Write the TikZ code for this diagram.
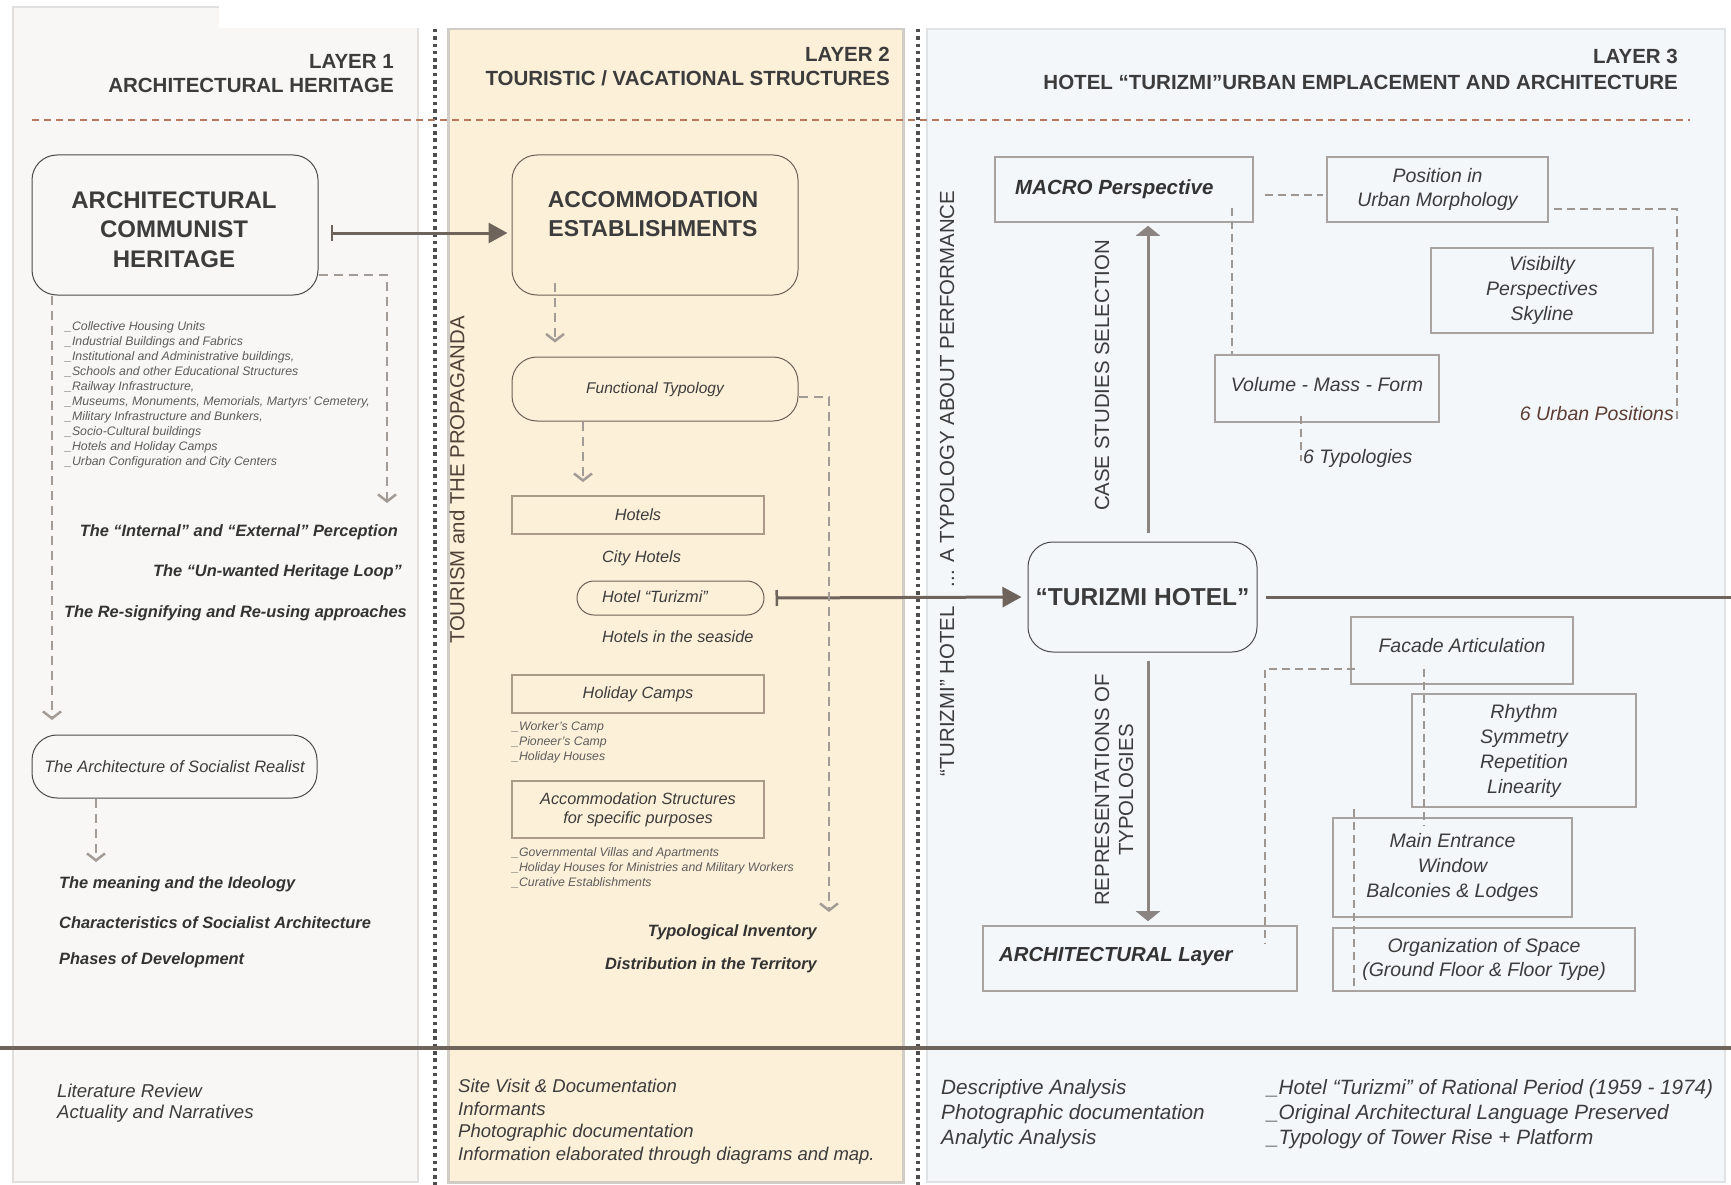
\documentclass[tikz,border=0pt]{standalone}
\usepackage{fontspec}
\setmainfont{Liberation Sans}
\usetikzlibrary{arrows.meta,calc}
\newcommand{\myfs}[2]{\fontsize{#1}{#2}\selectfont}
\definecolor{txt}{HTML}{3C3C3C}
\definecolor{bitx}{HTML}{333333}
\definecolor{lst}{HTML}{5C5C5C}
\definecolor{arr}{HTML}{6E645C}
\definecolor{dsh}{HTML}{A39B96}
\definecolor{dsh3}{HTML}{9E9691}
\definecolor{bxa}{HTML}{4A4A4A}
\definecolor{bxr}{HTML}{6D6055}
\definecolor{bxb}{HTML}{AB9A88}
\definecolor{bxc}{HTML}{A8A2A0}
\definecolor{pa}{HTML}{F8F7F6}
\definecolor{pb}{HTML}{FDF0D9}
\definecolor{pc}{HTML}{F3F7FA}
\definecolor{pba}{HTML}{E2E0DE}
\definecolor{pbb}{HTML}{D2CCC6}
\definecolor{pbc}{HTML}{DFE3E6}
\definecolor{hdash}{HTML}{B87860}
\definecolor{brn}{HTML}{5C3D33}
\definecolor{brv}{HTML}{4F4238}
\definecolor{dotc}{HTML}{4E4E4E}
\definecolor{csarr}{HTML}{8C8480}
\begin{document}
\begin{tikzpicture}[x=1pt,y=-1pt,
  every node/.style={inner sep=0pt, text=txt},
  hdr/.style={font=\myfs{20.5}{24.5}\bfseries, anchor=east, align=right},
  boxa/.style={draw=bxa, line width=1pt, rounded corners=25pt},
  boxr/.style={draw=bxr, line width=1pt, rounded corners=25pt},
  boxb/.style={draw=bxb, line width=1.8pt},
  boxc/.style={draw=bxc, line width=1.6pt},
  lsttext/.style={font=\myfs{12.3}{15}\itshape, text=lst, align=left, anchor=west},
  bit/.style={font=\myfs{16.4}{19}\bfseries\itshape, text=bitx},
  mid/.style={font=\myfs{16.3}{19}\itshape},
  ltr/.style={font=\myfs{19.5}{25}\itshape, align=center},
  vtxt/.style={rotate=90, font=\myfs{20.4}{24}},
  dl/.style={draw=dsh, line width=2.8pt, dash pattern=on 9pt off 6pt,
    arrows=-{Straight Barb[length=7pt,width=18pt,line width=2.5pt]}},
  dlthree/.style={draw=dsh3, line width=2.5pt, dash pattern=on 8pt off 5pt},
  sarrow/.style={draw=arr, line width=3pt,
    arrows={Bar[width=16pt,line width=2.5pt]-Triangle[length=19pt,width=20pt]}},
  csarrow/.style={draw=csarr, line width=3pt, arrows=-{Triangle[length=10pt,width=24pt]}},
  foot/.style={align=left, anchor=west}
]
\useasboundingbox (0,0) rectangle (1731,1185);
\fill[white] (0,0) rectangle (1731,1185);
% panels
\draw[fill=pa, draw=pba, line width=2pt] (13,7) rectangle (418,1182);
\draw[fill=pb, draw=pbb, line width=3pt] (448,29) rectangle (903,1182);
\draw[fill=pc, draw=pbc, line width=2pt] (927,29) rectangle (1725,1182);
\fill[white] (219,0) rectangle (1731,28);
% dotted separators
\draw[dotc, line width=3.5pt, dash pattern=on 3.5pt off 3.8pt] (435,29) -- (435,1185);
\draw[dotc, line width=3.5pt, dash pattern=on 3.5pt off 3.8pt] (918,29) -- (918,1185);
% header dashed line
\draw[hdash, line width=1.2pt, dash pattern=on 7pt off 5pt] (32,120) -- (1690,120);
% bottom line
\draw[arr, line width=3.5pt] (0,1048) -- (1731,1048);

% headers
\node[hdr] (h1) at (394,73.5) {LAYER 1\\ARCHITECTURAL HERITAGE};
\node[hdr] (h2) at (890,66.5) {LAYER 2\\TOURISTIC / VACATIONAL STRUCTURES};
\node[hdr, font=\myfs{20.5}{26}\bfseries] (h3) at (1678,69) {LAYER 3\\HOTEL “TURIZMI”URBAN EMPLACEMENT AND ARCHITECTURE};

% ---------- Layer 1
\node[boxa, minimum width=286pt, minimum height=140pt] (ACH) at (175,225) {};
\node[font=\myfs{24}{29.3}\bfseries, align=center] (ACHt) at (174,229.5) {ARCHITECTURAL\\COMMUNIST\\HERITAGE};
\node[lsttext] (L1list) at (65,395) {\_Collective Housing Units\\\_Industrial Buildings and Fabrics\\\_Institutional and Administrative buildings,\\\_Schools and other Educational Structures\\\_Railway Infrastructure,\\\_Museums, Monuments, Memorials, Martyrs' Cemetery,\\\_Military Infrastructure and Bunkers,\\\_Socio-Cultural buildings\\\_Hotels and Holiday Camps\\\_Urban Configuration and City Centers};
\node[bit, anchor=east] (TIE) at (398,532) {The “Internal” and “External” Perception};
\node[bit, anchor=east] (UWH) at (402,572) {The “Un-wanted Heritage Loop”};
\node[bit, anchor=east] (RSR) at (407,613) {The Re-signifying and Re-using approaches};
\node[boxa, minimum width=285pt, minimum height=63pt, font=\myfs{16.5}{20}\itshape] (SR) at (174.5,766.5) {The Architecture of Socialist Realist};
\node[bit, anchor=west] (MI) at (59,884) {The meaning and the Ideology};
\node[bit, anchor=west] (CSA) at (59,923) {Characteristics of Socialist Architecture};
\node[bit, anchor=west] (PD) at (59,960) {Phases of Development};
\node[foot, font=\myfs{18.6}{21}\itshape] (F1) at (57,1103.5) {Literature Review\\Actuality and Narratives};

% ---------- Layer 2
\node[vtxt, text=brv] (TP) at (457,480) {TOURISM and THE PROPAGANDA};
\node[boxr, minimum width=286pt, minimum height=140pt] (ACC) at (655,225) {};
\node[font=\myfs{23}{29}\bfseries, align=center] (ACCt) at (653,214.5) {ACCOMMODATION\\ESTABLISHMENTS};
\node[boxr, minimum width=286pt, minimum height=64pt, font=\myfs{15.5}{18}\itshape] (FT) at (655,389) {Functional Typology};
\node[boxb, minimum width=252pt, minimum height=38pt, mid] (HOT) at (638,515) {Hotels};
\node[mid, anchor=west] (CITY) at (602,558) {City Hotels};
\node[boxr, rounded corners=17pt, minimum width=187pt, minimum height=34pt] (HT) at (670.5,598) {};
\node[mid, anchor=west] (HTt) at (602,597) {Hotel “Turizmi”};
\node[mid, anchor=west] (SEA) at (602,637) {Hotels in the seaside};
\node[boxb, minimum width=252pt, minimum height=38pt, mid] (HC) at (638,694) {Holiday Camps};
\node[lsttext] (L2lista) at (512,742) {\_Worker's Camp\\\_Pioneer's Camp\\\_Holiday Houses};
\node[boxb, minimum width=252pt, minimum height=57pt, mid, align=center] (AS) at (638,809.5) {Accommodation Structures\\for specific purposes};
\node[lsttext] (L2listb) at (512,868) {\_Governmental Villas and Apartments\\\_Holiday Houses for Ministries and Military Workers\\\_Curative Establishments};
\node[bit, anchor=east] (TI) at (817,932) {Typological Inventory};
\node[bit, anchor=east] (DT) at (817,965) {Distribution in the Territory};
\node[foot, font=\myfs{18.5}{22.5}\itshape] (F2) at (458,1121.5) {Site Visit \& Documentation\\Informants\\Photographic documentation\\Information elaborated through diagrams and map.};

% ---------- Layer 3
\node[vtxt] (VH1) at (947,691.5) {“TURIZMI” HOTEL};
\node[vtxt] (VH2) at (947,389) {... A TYPOLOGY ABOUT PERFORMANCE};
\node[vtxt] (CSS) at (1102,375.5) {CASE STUDIES SELECTION};
\node[vtxt, align=center] (RT) at (1114,790) {REPRESENTATIONS OF\\TYPOLOGIES};
\node[boxc, minimum width=258pt, minimum height=65pt] (MACRO) at (1124,189.5) {};
\node[anchor=west, font=\myfs{20.5}{24}\bfseries\itshape, text=bitx] (MACROt) at (1015,189) {MACRO Perspective};
\node[boxc, minimum width=221pt, minimum height=65pt, ltr, font=\myfs{19.5}{24.5}\itshape] (POS) at (1437.5,189.5) {Position in\\Urban Morphology};
\node[boxc, minimum width=222pt, minimum height=85pt, ltr] (VIS) at (1542,290.5) {Visibilty\\Perspectives\\Skyline};
\node[boxc, minimum width=224pt, minimum height=67pt] (VOL) at (1327,388.5) {};
\node[ltr] (VOLt) at (1327,385) {Volume - Mass - Form};
\node[ltr, anchor=west] (TYP6) at (1303,458) {6 Typologies};
\node[ltr, anchor=east, text=brn] (URB6) at (1674,414) {6 Urban Positions};
\node[draw=bxa, line width=1pt, rounded corners=25pt, minimum width=229pt, minimum height=110pt, font=\myfs{24.5}{28}\bfseries] (TUR) at (1142.5,597) {“TURIZMI HOTEL”};
\node[boxc, minimum width=314pt, minimum height=65pt] (ARCH) at (1140,958.5) {};
\node[anchor=west, font=\myfs{20.3}{24}\bfseries\itshape, text=bitx] (ARCHt) at (999,957) {ARCHITECTURAL Layer};
\node[boxc, minimum width=222pt, minimum height=67pt] (FAC) at (1462,650.5) {};
\node[ltr] (FACt) at (1462,646) {Facade Articulation};
\node[boxc, minimum width=224pt, minimum height=113pt, ltr] (RHY) at (1524,750.5) {Rhythm\\Symmetry\\Repetition\\Linearity};
\node[boxc, minimum width=239pt, minimum height=99pt, ltr] (MAIN) at (1452.5,867.5) {Main Entrance\\Window\\Balconies \& Lodges};
\node[boxc, minimum width=302pt, minimum height=63pt, ltr, font=\myfs{19.5}{24}\itshape] (ORG) at (1484,959.5) {Organization of Space\\(Ground Floor \& Floor Type)};
\node[foot, font=\myfs{20.7}{25}\itshape] (F3a) at (941,1114) {Descriptive Analysis\\Photographic documentation\\Analytic Analysis};
\node[foot, font=\myfs{20.7}{25}\itshape] (F3b) at (1267,1114) {\_Hotel “Turizmi” of Rational Period (1959 - 1974)\\\_Original Architectural Language Preserved\\\_Typology of Tower Rise + Platform};

% ---------- coordinates for free ends
\coordinate (c1) at (387,503);
\coordinate (c2) at (52,720);
\coordinate (c3) at (96,862);
\coordinate (c5) at (829,912);
\coordinate (c7) at (1677,422);
\coordinate (c8) at (1301,461);
\coordinate (rend) at (1731,597);

% ---------- connectors
\draw[sarrow] ($(ACH.east)+(12,8)$) -- ($(ACC.west)+(-4,8)$);
\draw[sarrow, shorten >=6pt] ($(HT.east)+(11,0)$) -- (TUR.west);
\draw[arr, line width=3pt] ($(TUR.east)+(8,0)$) -- (rend);
\draw[csarrow] ($(TUR.north)+(5.5,-9)$) -- ($(MACRO.south)+(24,3)$);
\draw[csarrow] ($(TUR.south)+(5.5,8)$) -- ($(ARCH.north)+(8,-4)$);

\draw[dl] ($(ACH.east)+(0,50)$) -| (c1);
\draw[dl] ($(ACH.south)+(-123,0)$) -- (c2);
\draw[dl] ($(SR.south)+(-78.5,0)$) -- (c3);
\draw[dl] ($(ACC.south)+(-100,-13)$) -- ($(FT.north)+(-100,-14)$);
\draw[dl] ($(FT.east)+(0,8)$) -| (c5);
\draw[dl] ($(FT.south)+(-72,0)$) -- ($(HOT.north)+(-55,-13)$);

\draw[dlthree] ($(MACRO.east)+(11,5.5)$) -- ($(POS.west)+(-3,5.5)$);
\draw[dlthree] ($(MACRO.south)+(108,-15)$) -- ($(VOL.north)+(-95,0)$);
\draw[dlthree] ($(POS.east)+(5,19.5)$) -| (c7);
\draw[dlthree] ($(VOL.south)+(-26,-7)$) -- (c8);
\draw[dlthree] ($(FAC.west)+(5,18.5)$) -| ($(ARCH.north)+(125,19)$);
\draw[dlthree] ($(FAC.south)+(-38,-16)$) -- ($(MAIN.north)+(-28.5,9)$);
\draw[dlthree] ($(MAIN.north)+(-98.5,-8)$) -- ($(ORG.south)+(-130,-6)$);
\end{tikzpicture}
\end{document}
